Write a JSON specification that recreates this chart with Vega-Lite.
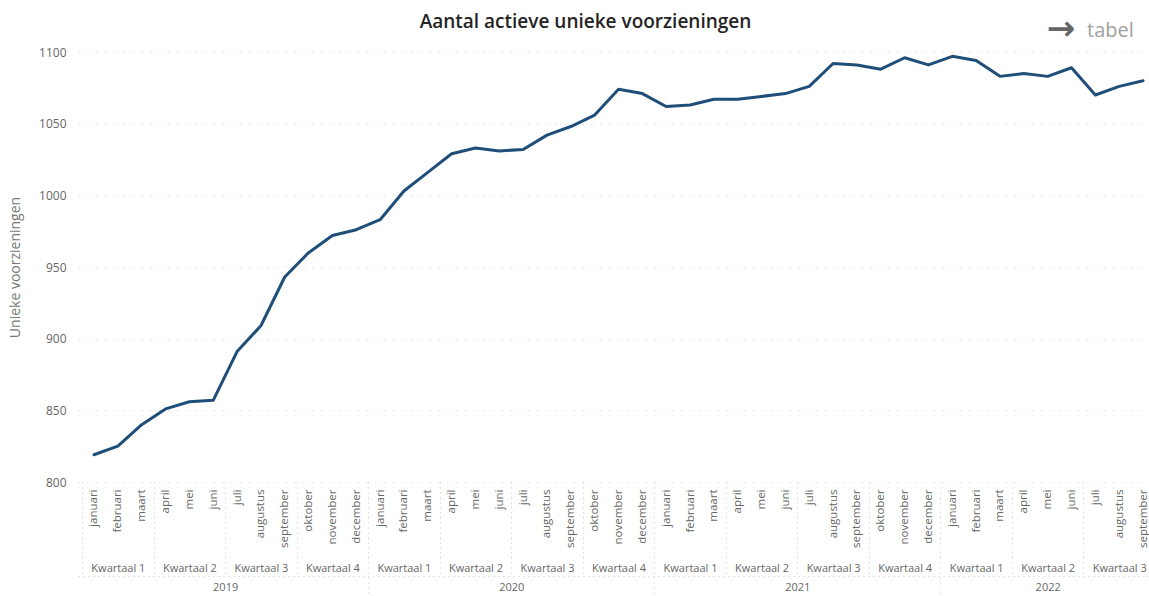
{
  "$schema": "https://vega.github.io/schema/vega-lite/v6.json",
  "autosize": {"type": "none"},
  "padding": {"left": 78, "top": 52, "right": 0, "bottom": 114},
  "width": 1071,
  "height": 430,
  "background": "white",
  "config": {
    "font": "Open Sans",
    "view": {"stroke": null}
  },
  "title": {
    "text": "Aantal actieve unieke voorzieningen",
    "fontSize": 19,
    "fontWeight": 600,
    "color": "#252423",
    "font": "Open Sans",
    "anchor": "middle",
    "frame": "group",
    "dx": -28,
    "offset": 0,
    "dy": 19
  },
  "data": {
    "values": [
      {"i": 0, "jaar": 2019, "maand": "januari", "waarde": 819},
      {"i": 1, "jaar": 2019, "maand": "februari", "waarde": 825},
      {"i": 2, "jaar": 2019, "maand": "maart", "waarde": 840},
      {"i": 3, "jaar": 2019, "maand": "april", "waarde": 851},
      {"i": 4, "jaar": 2019, "maand": "mei", "waarde": 856},
      {"i": 5, "jaar": 2019, "maand": "juni", "waarde": 857},
      {"i": 6, "jaar": 2019, "maand": "juli", "waarde": 891},
      {"i": 7, "jaar": 2019, "maand": "augustus", "waarde": 909},
      {"i": 8, "jaar": 2019, "maand": "september", "waarde": 943},
      {"i": 9, "jaar": 2019, "maand": "oktober", "waarde": 960},
      {"i": 10, "jaar": 2019, "maand": "november", "waarde": 972},
      {"i": 11, "jaar": 2019, "maand": "december", "waarde": 976},
      {"i": 12, "jaar": 2020, "maand": "januari", "waarde": 983},
      {"i": 13, "jaar": 2020, "maand": "februari", "waarde": 1003},
      {"i": 14, "jaar": 2020, "maand": "maart", "waarde": 1016},
      {"i": 15, "jaar": 2020, "maand": "april", "waarde": 1029},
      {"i": 16, "jaar": 2020, "maand": "mei", "waarde": 1033},
      {"i": 17, "jaar": 2020, "maand": "juni", "waarde": 1031},
      {"i": 18, "jaar": 2020, "maand": "juli", "waarde": 1032},
      {"i": 19, "jaar": 2020, "maand": "augustus", "waarde": 1042},
      {"i": 20, "jaar": 2020, "maand": "september", "waarde": 1048},
      {"i": 21, "jaar": 2020, "maand": "oktober", "waarde": 1056},
      {"i": 22, "jaar": 2020, "maand": "november", "waarde": 1074},
      {"i": 23, "jaar": 2020, "maand": "december", "waarde": 1071},
      {"i": 24, "jaar": 2021, "maand": "januari", "waarde": 1062},
      {"i": 25, "jaar": 2021, "maand": "februari", "waarde": 1063},
      {"i": 26, "jaar": 2021, "maand": "maart", "waarde": 1067},
      {"i": 27, "jaar": 2021, "maand": "april", "waarde": 1067},
      {"i": 28, "jaar": 2021, "maand": "mei", "waarde": 1069},
      {"i": 29, "jaar": 2021, "maand": "juni", "waarde": 1071},
      {"i": 30, "jaar": 2021, "maand": "juli", "waarde": 1076},
      {"i": 31, "jaar": 2021, "maand": "augustus", "waarde": 1092},
      {"i": 32, "jaar": 2021, "maand": "september", "waarde": 1091},
      {"i": 33, "jaar": 2021, "maand": "oktober", "waarde": 1088},
      {"i": 34, "jaar": 2021, "maand": "november", "waarde": 1096},
      {"i": 35, "jaar": 2021, "maand": "december", "waarde": 1091},
      {"i": 36, "jaar": 2022, "maand": "januari", "waarde": 1097},
      {"i": 37, "jaar": 2022, "maand": "februari", "waarde": 1094},
      {"i": 38, "jaar": 2022, "maand": "maart", "waarde": 1083},
      {"i": 39, "jaar": 2022, "maand": "april", "waarde": 1085},
      {"i": 40, "jaar": 2022, "maand": "mei", "waarde": 1083},
      {"i": 41, "jaar": 2022, "maand": "juni", "waarde": 1089},
      {"i": 42, "jaar": 2022, "maand": "juli", "waarde": 1070},
      {"i": 43, "jaar": 2022, "maand": "augustus", "waarde": 1076},
      {"i": 44, "jaar": 2022, "maand": "september", "waarde": 1080}
    ]
  },
  "resolve": {"axis": {"x": "independent"}},
  "layer": [
    {
      "mark": {"type": "line", "color": "#1F4E79", "strokeWidth": 3, "strokeJoin": "round", "strokeCap": "round"},
      "encoding": {
        "x": {
          "field": "i", "type": "quantitative",
          "scale": {"domain": [-0.671, 44.25], "nice": false, "zero": false},
          "axis": {
            "orient": "bottom",
            "title": null,
            "values": [0,1,2,3,4,5,6,7,8,9,10,11,12,13,14,15,16,17,18,19,20,21,22,23,24,25,26,27,28,29,30,31,32,33,34,35,36,37,38,39,40,41,42,43,44],
            "labelExpr": "['januari','februari','maart','april','mei','juni','juli','augustus','september','oktober','november','december'][datum.value % 12]",
            "labelAngle": -90,
            "labelFontSize": 11.5,
            "labelColor": "#666666",
            "labelPadding": 7,
            "labelOverlap": false,
            "labelBound": false,
            "labelFlush": false,
            "ticks": false,
            "domain": false,
            "grid": false
          }
        },
        "y": {
          "field": "waarde", "type": "quantitative",
          "scale": {"domain": [800, 1100], "nice": false, "zero": false},
          "axis": {
            "title": "Unieke voorzieningen",
            "titleFontSize": 14,
            "titleFontWeight": "normal",
            "titleColor": "#777777",
            "titlePadding": 16,
            "values": [800, 850, 900, 950, 1000, 1050, 1100],
            "format": "d",
            "labelFontSize": 12,
            "labelColor": "#666666",
            "labelPadding": 12,
            "ticks": false,
            "domain": false,
            "grid": true,
            "gridColor": "#c8c8c8",
            "gridDash": [1, 8],
            "gridWidth": 1
          }
        }
      }
    },
    {
      "mark": {"type": "point", "opacity": 0},
      "encoding": {
        "x": {
          "field": "i", "type": "quantitative",
          "axis": {
            "orient": "bottom",
            "title": null,
            "values": [-0.5, 2.5, 5.5, 8.5, 14.5, 17.5, 20.5, 26.5, 29.5, 32.5, 38.5, 41.5],
            "labels": false,
            "domain": false,
            "grid": false,
            "ticks": true,
            "tickSize": 94,
            "tickColor": "#c8c8c8",
            "tickDash": [1, 4],
            "tickWidth": 1
          }
        }
      }
    },
    {
      "mark": {"type": "point", "opacity": 0},
      "encoding": {
        "x": {
          "field": "i", "type": "quantitative",
          "axis": {
            "orient": "bottom",
            "title": null,
            "values": [11.5, 23.5, 35.5],
            "labels": false,
            "domain": false,
            "grid": false,
            "ticks": true,
            "tickSize": 114,
            "tickColor": "#c8c8c8",
            "tickDash": [1, 4],
            "tickWidth": 1
          }
        }
      }
    },
    {
      "mark": {"type": "point", "opacity": 0},
      "encoding": {
        "x": {
          "field": "i", "type": "quantitative",
          "axis": {
            "orient": "bottom",
            "offset": 78,
            "title": null,
            "values": [1, 4, 7, 10, 13, 16, 19, 22, 25, 28, 31, 34, 37, 40, 43],
            "labelExpr": "'Kwartaal ' + (floor(datum.value / 3) % 4 + 1)",
            "labelFontSize": 11,
            "labelColor": "#666666",
            "labelPadding": 2,
            "labelOverlap": false,
            "labelBound": false,
            "labelFlush": false,
            "ticks": false,
            "domain": false,
            "grid": false
          }
        }
      }
    },
    {
      "mark": {"type": "point", "opacity": 0},
      "encoding": {
        "x": {
          "field": "i", "type": "quantitative",
          "axis": {
            "orient": "bottom",
            "offset": 94,
            "title": null,
            "values": [5.5, 17.5, 29.5, 40],
            "labelExpr": "'' + (2019 + floor(datum.value / 12))",
            "labelFontSize": 11,
            "labelColor": "#666666",
            "labelPadding": 5,
            "labelOverlap": false,
            "labelBound": false,
            "labelFlush": false,
            "ticks": false,
            "domain": true,
            "domainColor": "#c8c8c8",
            "domainDash": [1, 4],
            "domainWidth": 1,
            "grid": false
          }
        }
      }
    },
    {
      "data": {"values": [{"tekst": "→"}]},
      "mark": {"type": "text", "font": "DejaVu Sans", "fontSize": 34, "fontWeight": "bold", "color": "#666666", "align": "center", "baseline": "middle"},
      "encoding": {
        "text": {"field": "tekst"},
        "x": {"datum": 40.56, "type": "quantitative", "axis": null},
        "y": {"datum": 1115.5, "type": "quantitative"}
      }
    },
    {
      "data": {"values": [{"tekst": "tabel"}]},
      "mark": {"type": "text", "font": "Open Sans", "fontSize": 20, "color": "#a0a0a0", "align": "left", "baseline": "middle"},
      "encoding": {
        "text": {"field": "tekst"},
        "x": {"datum": 41.65, "type": "quantitative", "axis": null},
        "y": {"datum": 1114.5, "type": "quantitative"}
      }
    }
  ]
}
